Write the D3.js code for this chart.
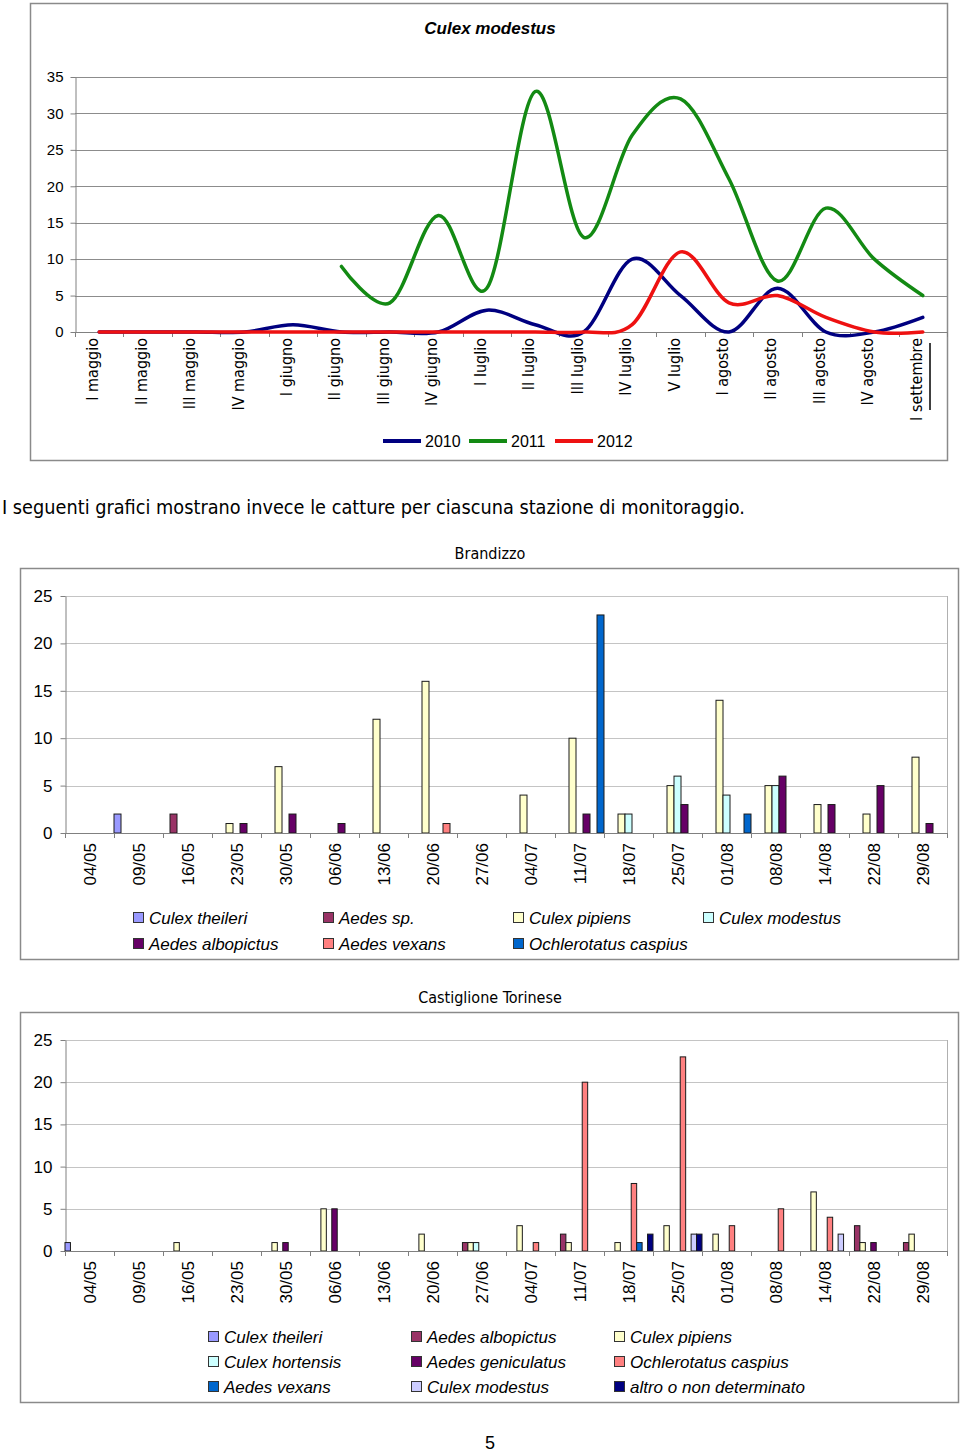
<!DOCTYPE html>
<html><head><meta charset="utf-8">
<script src="https://cdn.jsdelivr.net/npm/d3@7"></script>
<style>
body{margin:0;background:#fff;}
svg{display:block;}
text{font-family:"Liberation Sans",Arial,sans-serif;fill:#000;}
.tah{font-family:"DejaVu Sans Condensed","DejaVu Sans",sans-serif;font-stretch:condensed;}
</style></head><body><svg id="c" width="960" height="1454"></svg>
<script>
// ---------- DATA ----------
const periods = ["I maggio","II maggio","III maggio","IV maggio","I giugno","II giugno","III giugno","IV giugno","I luglio","II luglio","III luglio","IV luglio","V luglio","I agosto","II agosto","III agosto","IV agosto","I settembre"];
const years = ["2010","2011","2012"];
const y2010 = [0,0,0,0,1,0,0,0,3,1,0,10,5,0,6,0,0,2];
const y2011 = [null,null,null,null,null,9,4,16,6,33,13,27,32,21,7,17,10,5];
const y2012 = [0,0,0,0,0,0,0,0,0,0,0,1,11,4,5,2,0,0];
const yearColors = ["#000080","#138a13","#ee1111"];
const lineTicks = [0,5,10,15,20,25,30,35];

const dates = ["04/05","09/05","16/05","23/05","30/05","06/06","13/06","20/06","27/06","04/07","11/07","18/07","25/07","01/08","08/08","14/08","22/08","29/08"];
const barTicks = [0,5,10,15,20,25];

// Brandizzo
const bNames = ["Culex theileri","Aedes sp.","Culex pipiens","Culex modestus","Aedes albopictus","Aedes vexans","Ochlerotatus caspius"];
const bColors = ["#9999ff","#993366","#ffffcc","#ccffff","#660066","#ff8080","#0066cc"];
const bTheileri   = [0,2,0,0,0,0,0,0,0,0,0,0,0,0,0,0,0,0];
const bAedesSp    = [0,0,2,0,0,0,0,0,0,0,0,0,0,0,0,0,0,0];
const bPipiens    = [0,0,0,1,7,0,12,16,0,4,10,2,5,14,5,3,2,8];
const bModestus   = [0,0,0,0,0,0,0,0,0,0,0,2,6,4,5,0,0,0];
const bAlbopictus = [0,0,0,1,2,1,0,0,0,0,2,0,3,0,6,3,5,1];
const bVexans     = [0,0,0,0,0,0,0,1,0,0,0,0,0,0,0,0,0,0];
const bCaspius    = [0,0,0,0,0,0,0,0,0,0,23,0,0,2,0,0,0,0];

// Castiglione Torinese
const cNames = ["Culex theileri","Aedes albopictus","Culex pipiens","Culex hortensis","Aedes geniculatus","Ochlerotatus caspius","Aedes vexans","Culex modestus","altro o non determinato"];
const cColors = ["#9999ff","#993366","#ffffcc","#ccffff","#660066","#ff8080","#0066cc","#ccccff","#000080"];
const cTheileri    = [1,0,0,0,0,0,0,0,0,0,0,0,0,0,0,0,0,0];
const cAlbopictus  = [0,0,0,0,0,0,0,0,1,0,2,0,0,0,0,0,3,1];
const cPipiens     = [0,0,1,0,1,5,0,2,1,3,1,1,3,2,0,7,1,2];
const cHortensis   = [0,0,0,0,0,0,0,0,1,0,0,0,0,0,0,0,0,0];
const cGeniculatus = [0,0,0,0,1,5,0,0,0,0,0,0,0,0,0,0,1,0];
const cCaspius     = [0,0,0,0,0,0,0,0,0,1,20,8,23,3,5,4,0,0];
const cVexans      = [0,0,0,0,0,0,0,0,0,0,0,1,0,0,0,0,0,0];
const cModestus    = [0,0,0,0,0,0,0,0,0,0,0,0,2,0,0,2,0,0];
const cAltro       = [0,0,0,0,0,0,0,0,0,0,0,2,2,0,0,0,0,0];

// ---------- DRAW ----------
const svg = d3.select("#c");
const frameCol = "#8a8a8a";

// ===== Chart 1: line chart =====
(function(){
  const L=75, R=947, T=77, B=332;
  svg.append("rect").attr("x",30.5).attr("y",3.5).attr("width",917).attr("height",457)
    .attr("fill","none").attr("stroke",frameCol).attr("stroke-width",1.5);
  svg.append("text").attr("x",490).attr("y",34).attr("text-anchor","middle")
    .style("font-weight","bold").style("font-style","italic").style("font-size","17px").text("Culex modestus");
  const x = d3.scalePoint().domain(periods).range([L,R]).padding(0.5);
  const xb = d3.scaleBand().domain(periods).range([L,R]);
  const y = d3.scaleLinear().domain([0,35]).range([B,T]);
  const g = svg.append("g");
  g.selectAll(".gl").data(lineTicks.filter(d=>d>0)).join("line")
    .attr("x1",L).attr("x2",R).attr("y1",d=>Math.round(y(d))+0.5).attr("y2",d=>Math.round(y(d))+0.5)
    .attr("stroke","#8c8c8c").attr("stroke-width",1);
  g.append("line").attr("x1",R+0.5).attr("x2",R+0.5).attr("y1",T).attr("y2",B).attr("stroke","#8c8c8c");
  const ya = g.append("g").attr("transform",`translate(${L+0.5},0)`)
    .call(d3.axisLeft(y).tickValues(lineTicks).tickSize(5).tickPadding(7).tickSizeOuter(0));
  ya.select(".domain").attr("stroke","#808080");
  ya.selectAll(".tick line").attr("stroke","#808080");
  ya.selectAll("text").style("font-size","15px").style("font-family","Liberation Sans");
  g.append("line").attr("x1",L).attr("x2",R).attr("y1",B+0.5).attr("y2",B+0.5).attr("stroke","#808080");
  g.selectAll(".xt").data(periods.concat(["_end"])).join("line")
    .attr("x1",(d,i)=>i<periods.length? Math.round(xb(d))+0.5 : R+0.5)
    .attr("x2",(d,i)=>i<periods.length? Math.round(xb(d))+0.5 : R+0.5)
    .attr("y1",B).attr("y2",B+5).attr("stroke","#808080");
  g.selectAll(".xl").data(periods).join("text").attr("class","tah")
    .attr("transform",d=>`translate(${x(d)-1},${B+6}) rotate(-90)`)
    .attr("text-anchor","end").style("font-size","16px").text(d=>d);
  g.append("line").attr("x1",930).attr("x2",930).attr("y1",343).attr("y2",410).attr("stroke","#000").attr("stroke-width",1.5);
  const series = [y2010,y2011,y2012];
  const line = d3.line().defined(d=>d.v!=null).x(d=>x(d.p)).y(d=>y(d.v)).curve(d3.curveCardinal.tension(0));
  series.forEach((s,k)=>{
    g.append("path").datum(periods.map((p,i)=>({p,v:s[i]})))
      .attr("d",line).attr("fill","none").attr("stroke",yearColors[k]).attr("stroke-width",3.5)
      .attr("stroke-linejoin","round").attr("stroke-linecap","round");
  });
  const lx = [383,469,555];
  years.forEach((yr,k)=>{
    svg.append("line").attr("x1",lx[k]).attr("x2",lx[k]+38).attr("y1",441).attr("y2",441)
      .attr("stroke",yearColors[k]).attr("stroke-width",4);
    svg.append("text").attr("x",lx[k]+42).attr("y",447).style("font-size","16px").text(yr);
  });
})();

// ===== Paragraph =====
svg.append("text").attr("class","tah").attr("x",2).attr("y",514).style("font-size","19px")
  .attr("textLength",743).attr("lengthAdjust","spacingAndGlyphs")
  .text("I seguenti grafici mostrano invece le catture per ciascuna stazione di monitoraggio.");

// ===== Bar chart function =====
function barChart(cfg){
  const {fx,fy,fw,fh,title,titleY,L,R,T,B,names,colors,values,cols,rows,legCols} = cfg;
  svg.append("rect").attr("x",fx+0.5).attr("y",fy+0.5).attr("width",fw).attr("height",fh)
    .attr("fill","none").attr("stroke",frameCol).attr("stroke-width",1.5);
  svg.append("text").attr("class","tah").attr("x",490).attr("y",titleY).attr("text-anchor","middle")
    .style("font-size","16px").text(title);
  const x = d3.scaleBand().domain(dates).range([L,R]).padding(0);
  const xs = d3.scaleBand().domain(d3.range(names.length)).range([0,x.bandwidth()]).padding(0);
  const y = d3.scaleLinear().domain([0,25]).range([B,T]);
  const g = svg.append("g");
  g.selectAll(".gl").data(barTicks.filter(d=>d>0)).join("line")
    .attr("x1",L).attr("x2",R).attr("y1",d=>Math.round(y(d))+0.5).attr("y2",d=>Math.round(y(d))+0.5)
    .attr("stroke","#c4c4c4");
  g.append("line").attr("x1",R+0.5).attr("x2",R+0.5).attr("y1",T).attr("y2",B).attr("stroke","#b0b0b0");
  const ya = g.append("g").attr("transform",`translate(${L+0.5},0)`)
    .call(d3.axisLeft(y).tickValues(barTicks).tickSize(5).tickPadding(8).tickSizeOuter(0));
  ya.select(".domain").attr("stroke","#808080");
  ya.selectAll(".tick line").attr("stroke","#808080");
  ya.selectAll("text").style("font-size","17px").style("font-family","Liberation Sans");
  names.forEach((n,s)=>{
    g.selectAll(null).data(dates.map((d,i)=>({d,v:values[s][i]})).filter(o=>o.v>0)).join("rect")
      .attr("x",o=>x(o.d)+xs(s)).attr("width",xs.bandwidth())
      .attr("y",o=>y(o.v)).attr("height",o=>B-y(o.v))
      .attr("fill",colors[s]).attr("stroke","#1a1a1a").attr("stroke-width",1);
  });
  g.append("line").attr("x1",L).attr("x2",R).attr("y1",B+0.5).attr("y2",B+0.5).attr("stroke","#808080");
  g.selectAll(".xt").data(dates.concat(["_e"])).join("line")
    .attr("x1",(d,i)=>i<dates.length? Math.round(x(d))+0.5 : R+0.5)
    .attr("x2",(d,i)=>i<dates.length? Math.round(x(d))+0.5 : R+0.5)
    .attr("y1",B).attr("y2",B+5).attr("stroke","#808080");
  g.selectAll(".xl").data(dates).join("text")
    .attr("transform",d=>`translate(${x(d)+x.bandwidth()/2+6},${B+10}) rotate(-90)`)
    .attr("text-anchor","end").style("font-size","17px").text(d=>d);
  names.forEach((n,s)=>{
    const cx = cols[s%legCols], cy = rows[Math.floor(s/legCols)];
    svg.append("rect").attr("x",cx+0.5).attr("y",cy-5.5).attr("width",10).attr("height",10)
      .attr("fill",colors[s]).attr("stroke","#333");
    svg.append("text").attr("x",cx+16).attr("y",cy+6).style("font-size","17px").style("font-style","italic").text(n);
  });
}

barChart({fx:20,fy:568,fw:938,fh:391,title:"Brandizzo",titleY:559,L:65,R:947,T:596,B:833,
  names:bNames,colors:bColors,values:[bTheileri,bAedesSp,bPipiens,bModestus,bAlbopictus,bVexans,bCaspius],
  cols:[133,323,513,703],rows:[918,944],legCols:4});

barChart({fx:20,fy:1012,fw:938,fh:390,title:"Castiglione Torinese",titleY:1003,L:65,R:947,T:1040,B:1251,
  names:cNames,colors:cColors,values:[cTheileri,cAlbopictus,cPipiens,cHortensis,cGeniculatus,cCaspius,cVexans,cModestus,cAltro],
  cols:[208,411,614],rows:[1337,1362,1387],legCols:3});

svg.append("text").attr("x",490).attr("y",1449).attr("text-anchor","middle").style("font-size","18px").text("5");
</script></body></html>
